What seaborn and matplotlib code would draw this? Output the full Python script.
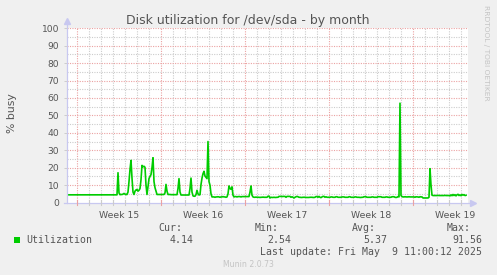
import numpy as np
import pandas as pd
import matplotlib
matplotlib.use("Agg")
import matplotlib.pyplot as plt
import seaborn as sns
from matplotlib.patches import Rectangle

# Disk busy percentage, one value per 2-hour consolidated sample.
pre_week15 = [4.4, 4.4, 4.4, 4.4, 4.4, 4.4, 4.4, 4.4, 4.4, 4.4]

week15 = [
    4.4, 4.4, 4.4, 4.4, 4.4, 4.4, 4.4, 4.4, 4.4, 4.4,
    4.4, 4.4, 4.4, 4.4, 4.4, 4.4, 4.4, 4.4, 4.4, 4.4,
    4.4, 4.4, 4.4, 4.4, 4.4, 4.4, 4.4, 4.4, 4.4, 4.4,
    4.4, 4.4, 4.4, 4.4, 4.4, 4.4, 4.4, 4.4, 4.4, 4.4, 4.4,
    17.1, 5.5, 4.5,
    4.6, 4.6, 4.8, 5.2, 4.8, 4.6, 4.6,
    6.0, 12.0, 19.0, 24.2, 14.0, 6.0, 4.6,
    6.5, 7.2, 7.5, 6.5, 7.0, 8.0,
    13.0, 21.3, 20.5, 20.8, 20.2, 10.0, 4.6,
    9.0, 13.7, 15.0, 16.0, 20.0, 25.7, 12.0, 8.5, 6.5, 4.6,
    4.6, 4.6, 4.6,
]

week16 = [
    4.6, 4.6, 4.6, 4.6,
    5.5, 10.4, 6.5, 4.6,
    4.6, 4.6, 4.5, 4.5, 4.5, 4.5, 4.5, 4.5, 4.5,
    8.0, 13.7, 6.0, 4.3,
    4.3, 4.3, 4.3, 4.3, 4.3, 4.3, 4.3, 4.3,
    8.0, 14.0, 6.0, 3.8,
    3.6, 3.6, 4.5,
    7.0, 5.0, 4.3,
    4.5, 10.3, 14.0, 16.5, 17.9, 15.2, 14.5, 13.7, 35.0, 12.0, 9.9, 5.0, 3.2,
    3.2, 3.2, 3.0, 3.2, 3.2, 3.3, 3.2, 3.0, 3.2, 3.2, 3.4, 3.2, 3.2, 3.0, 3.2,
    5.0, 9.5, 8.0, 7.6, 9.0, 4.2, 3.2,
    3.4, 3.4, 3.2, 3.4, 3.4, 3.4, 3.2, 3.4, 3.4, 3.4,
]

week17 = [
    3.4, 3.4, 3.4, 3.4, 3.4,
    6.0, 9.5, 4.2, 3.2,
    3.0, 3.0, 3.1, 3.0, 3.0, 3.0, 2.9, 3.0, 3.0, 3.1, 3.0, 3.0, 3.0, 3.0,
    3.6, 3.6, 2.6, 3.0,
    2.9, 2.9, 3.0, 2.9, 2.9, 3.0, 3.0,
    3.5, 3.5, 3.5, 3.4, 3.5, 3.5, 3.5, 3.0, 3.5, 3.5, 3.5, 3.5,
    3.0, 3.3, 3.0, 2.6, 3.0, 3.3, 3.5, 3.3, 3.0, 3.0,
    2.9, 2.9, 3.0, 3.0, 3.0, 2.9, 2.9, 2.9, 2.9, 3.0, 3.0, 3.0, 2.9, 2.9, 3.0,
    3.4, 3.4, 3.0, 3.5, 3.0, 2.8, 3.2, 3.5, 3.5, 3.0, 3.3, 3.0, 3.0,
]

week18 = [
    3.0, 3.0, 3.2, 3.2, 3.0, 3.0, 3.0, 3.3, 3.3, 3.0,
    3.0, 3.0, 3.0, 3.2, 3.2, 3.2, 3.0, 3.0, 3.0, 3.0,
    3.3, 3.3, 3.0, 3.0, 3.0, 3.0, 3.2, 3.2, 3.0, 3.0,
    3.0, 2.9, 2.9, 3.0, 3.0, 3.3, 3.3, 3.3, 3.0, 3.0,
    3.0, 3.0, 3.0, 3.2, 3.2, 3.0, 3.0, 3.0, 3.0, 3.3,
    3.3, 3.3, 3.3, 3.0, 3.0, 3.0, 3.0, 3.2, 3.2, 3.0,
    3.0, 3.0, 3.0, 3.3, 3.3, 3.3, 3.0, 2.9, 3.0, 3.4, 3.2,
    57.0, 4.0,
    3.4, 3.2, 3.2, 3.3, 3.2, 3.2, 3.2, 3.3, 3.2, 3.2, 3.2,
]

week19 = [
    3.2, 3.2, 3.0, 3.3, 3.2, 3.2, 3.0, 3.3, 3.2, 3.2,
    2.6, 2.6, 2.6, 2.6, 2.6, 2.6,
    3.0, 19.4, 10.0, 4.2,
    4.0, 4.0, 4.0, 4.0, 4.0, 4.1, 4.0, 4.0, 4.0, 4.0, 4.0, 4.0, 4.1, 4.0, 4.0, 4.0, 4.0,
    3.8, 4.4, 3.9, 4.6, 4.0, 4.5, 3.8, 4.4, 4.7, 4.0, 4.4, 3.9, 4.6, 4.2, 4.5, 4.0, 4.14,
]

week_labels = ["Week 15", "Week 16", "Week 17", "Week 18", "Week 19"]
y_ticks = [0, 10, 20, 30, 40, 50, 60, 70, 80, 90, 100]

series_name = "Utilization"
stat_names = ["Cur:", "Min:", "Avg:", "Max:"]
stat_values = ["4.14", "2.54", "5.37", "91.56"]
last_update = "Last update: Fri May  9 11:00:12 2025"

busy = pre_week15 + week15 + week16 + week17 + week18 + week19
# hour 0 = Monday 00:00 of week 15; samples every 2 hours
hours = -20 + 2 * np.arange(len(busy))
df = pd.DataFrame({"hour": hours, "busy": busy})

W, H = 497, 275
BG = "#F0F0F0"
TXT = "#555555"
MINOR = "#CCCCCC"
MAJOR = "#EBA2A2"
AXIS = "#C8C8F0"
GREEN = "#00CC00"

fig = plt.figure(figsize=(W / 100, H / 100), dpi=100, facecolor=BG)
ax = fig.add_axes([67 / W, 1 - 202.5 / H, 400.5 / W, 174.2 / H])
ax.set_facecolor("white")

x_min, x_max = -20, 781
ax.set_xlim(x_min, x_max)
ax.set_ylim(0, 100)

dots = (0, (1.0, 1.2))
# daily / weekly vertical grid
for h in range(0, x_max, 24):
    major = h % 168 == 0
    ax.axvline(h, color=MAJOR if major else MINOR, lw=0.8, ls=dots, zorder=1)
# horizontal grid: red every 10, grey every 5
for v in range(5, 101, 5):
    ax.axhline(v, color=MAJOR if v % 10 == 0 else MINOR, lw=0.8, ls=dots, zorder=1)

sns.lineplot(data=df, x="hour", y="busy", ax=ax, color=GREEN, linewidth=1.2,
             zorder=5, legend=False)

for s in ax.spines.values():
    s.set_visible(False)

# axis lines with arrow heads
ax.plot([0, 0], [0, 1.035], transform=ax.transAxes, color=AXIS, lw=0.9,
        clip_on=False, zorder=6)
ax.plot([-0.008, 1.012], [0, 0], transform=ax.transAxes, color=AXIS, lw=0.9,
        clip_on=False, zorder=6)
ax.plot([0], [1.04], marker="^", markersize=4, color=AXIS, transform=ax.transAxes,
        clip_on=False, zorder=6)
ax.plot([1.013], [0], marker=">", markersize=4, color=AXIS, transform=ax.transAxes,
        clip_on=False, zorder=6)

# small ticks on the time axis
xt = ax.get_xaxis_transform()
for h in range(0, x_max, 24):
    ax.plot([h, h], [-0.012, 0.012], transform=xt,
            color=MAJOR if h % 168 == 0 else MINOR, lw=0.8, clip_on=False, zorder=6)

ax.set_yticks(y_ticks)
ax.set_yticklabels([str(t) for t in y_ticks])
ax.tick_params(axis="y", length=2.5, width=0.7, color=MINOR, pad=3,
               labelsize=6.6, labelcolor=TXT)
week_centers = [84 + 168 * i for i in range(len(week_labels))]
ax.set_xticks(week_centers)
ax.set_xticklabels(week_labels)
ax.tick_params(axis="x", length=0, pad=6, labelsize=6.7, labelcolor=TXT)
ax.set_xlabel("")
ax.set_ylabel("")


def fy(py):
    return 1 - py / H


fig.text(248 / W, fy(24.3), "Disk utilization for /dev/sda - by month",
         ha="center", va="baseline", fontsize=9.0, color=TXT)
fig.text(12 / W, fy(113), "% busy", rotation=90, ha="center", va="center",
         fontsize=7.8, color=TXT)
fig.text(486 / W, fy(5), "RRDTOOL / TOBI OETIKER", rotation=270, ha="center",
         va="top", fontsize=5.4, color="#C4C4C4")

mono = dict(family="DejaVu Sans Mono", fontsize=7.1, color=TXT, va="baseline")
header_x = [158, 255, 352, 447]
value_right = [193.5, 291.5, 387.5, 482.5]
for name, hx in zip(stat_names, header_x):
    fig.text(hx / W, fy(230.7), name, ha="left", **mono)
for val, vx in zip(stat_values, value_right):
    fig.text(vx / W, fy(242.7), val, ha="right", **mono)
fig.text(26.5 / W, fy(242.7), series_name, ha="left", **mono)
fig.patches.append(Rectangle((14 / W, fy(243)), 6 / W, 6 / H, transform=fig.transFigure,
                             facecolor=GREEN, edgecolor="none"))
fig.text(482.5 / W, fy(255), last_update, ha="right", **mono)
fig.text(248 / W, fy(266.7), "Munin 2.0.73", ha="center", va="baseline",
         fontsize=5.6, color="#C4C4C4")

fig.savefig("out.png", dpi=100, facecolor=BG)
